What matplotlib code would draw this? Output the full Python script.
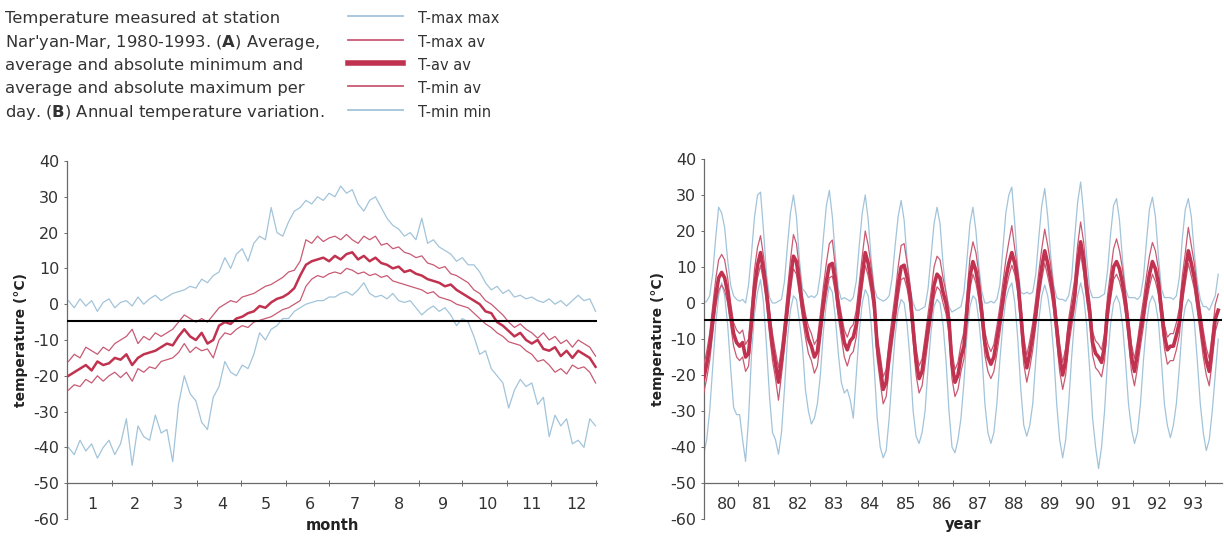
import numpy as np
import matplotlib
matplotlib.use('Agg')
import matplotlib.pyplot as plt
from matplotlib.lines import Line2D

# ---- (A) daily climatology, every 4th day of the year ----
days = np.arange(1, 366, 4)

tmaxmax_day = [1, -1, 1.5, -0.5, 1, -2, 0.5, 1.5, -1, 0.5,
               1, -0.5, 2, 0, 1.5, 2.5, 1, 2, 3, 3.5,
               4, 5, 4.5, 7, 6, 8, 9, 13, 10, 14,
               15.5, 12, 17, 19, 18, 27, 20, 19, 23, 26,
               27, 29, 28, 30, 29, 31, 30, 33, 31, 32,
               28, 26, 29, 30, 27, 24, 22, 21, 19, 20,
               18, 24, 17, 18, 16, 15, 14, 12, 13, 11,
               11, 9, 6, 4, 5, 3, 4, 2, 2.5, 1.5,
               2, 1, 0.5, 1.5, 0, 1, -0.5, 1, 2.5, 1,
               1.5, -2]
tmaxav_day = [-16, -14, -15, -12, -13, -14, -12, -13, -11, -10,
              -9, -7, -11, -9, -10, -8, -9, -8, -7, -5,
              -3, -4, -5, -4, -5, -3, -1, 0, 1, 0.5,
              2, 2.5, 3, 4, 5, 5.5, 6.5, 7.5, 9, 9.5,
              12, 18, 17, 19, 17.5, 18.5, 19, 18, 19.5, 18,
              17, 19, 18, 19, 16.5, 17, 15.5, 16, 14.5, 14,
              13, 13.5, 11.5, 11, 10, 10.5, 8.5, 8, 7, 6,
              4, 3, 1, 0, -1.5, -3, -5, -6.5, -5.5, -7,
              -8, -9.5, -8, -10, -9, -11, -10, -12, -10, -11,
              -12, -14.5]
tavav_day = [-20, -19, -18, -17, -18.5, -16, -17, -16.5, -15, -15.5,
             -14, -17, -15, -14, -13.5, -13, -12, -11, -11.5, -9,
             -7, -9, -10, -8, -11, -10, -6, -5, -5.5, -4,
             -3.5, -2.5, -2, -0.5, -1, 0.5, 1.5, 2, 3, 4.5,
             8, 11, 12, 12.5, 13, 12, 13.5, 12.5, 14, 14.5,
             12.5, 13.5, 12, 13, 11.5, 11, 10, 10.5, 9, 9.5,
             8.5, 8, 7, 6.5, 6, 5, 5.5, 4, 3, 2,
             1, 0, -2, -2.5, -5, -6, -7.5, -9, -8, -10,
             -11, -10, -12.5, -13, -12, -14.5, -13, -15, -13, -14,
             -15, -17.5]
tminav_day = [-24, -22.5, -23, -21, -22, -20, -21.5, -20, -19, -20.5,
              -19, -21.5, -18, -19, -17.5, -18, -16, -15.5, -15, -13.5,
              -11, -13.5, -12, -13, -12.5, -15, -10, -8, -8.5, -7,
              -6, -6.5, -5, -4.5, -4, -3.5, -2.5, -1.5, -1, 0,
              1, 5, 7, 8, 7.5, 8.5, 9, 8.5, 10, 9.5,
              8.5, 9, 8, 8.5, 7.5, 8, 6.5, 6, 5.5, 5,
              4.5, 4, 3, 3.5, 2, 1.5, 1, 0, -0.5, -1,
              -2.5, -4, -5.5, -6.5, -8, -9, -10.5, -11, -11.5, -13,
              -14, -16, -15.5, -17, -19, -18, -19.5, -17, -18, -17.5,
              -19, -22]
tminmin_day = [-40, -42, -38, -41, -39, -43, -40, -38, -42, -39,
               -32, -45, -34, -37, -38, -31, -36, -35, -44, -28,
               -20, -25, -27, -33, -35, -26, -23, -16, -19, -20,
               -17, -18, -14, -8, -10, -7, -6, -4, -4, -2,
               -1, 0, 0.5, 1, 1, 2, 2, 3, 3.5, 2.5,
               4, 6, 3, 2, 2.5, 1.5, 3, 1, 0.5, 1,
               -1, -3, -1.5, -0.5, -2, -1, -3, -6, -4, -5,
               -9, -14, -13, -18, -20, -22, -29, -24, -21, -23,
               -22, -28, -26, -37, -31, -34, -32, -39, -38, -40,
               -32, -34]

month_edges = [0, 31, 59, 90, 120, 151, 181, 212, 243, 273, 304, 334, 365]
month_labels = [str(m) for m in range(1, 13)]

# ---- (B) monthly values 1980 - May 1994 ----
tmaxmax_mon = [
    [0, 0.5, 2, 8, 18, 26.6, 25, 21, 12, 5, 2, 1],
    [0.5, 1, 0, 5, 14, 24, 30, 30.8, 20, 8, 1.5, 0],
    [0, 0.5, 1, 6, 16, 25, 30, 24, 12, 4, 3, 1.5],
    [2, 1.5, 2.5, 8, 18, 27, 31.3, 24, 13, 4, 1, 1.5],
    [1, 0.5, 1.5, 6, 16, 25, 30, 23, 12, 4, 1.5, 1],
    [0.5, 1, 2, 7, 16, 24, 28.5, 23, 12, 4, 0, -2],
    [-2, -1.5, -1, 4, 13, 22, 26.6, 22, 11, 3, -1, -2.5],
    [-2, -1.5, -1, 3, 12, 22, 26.6, 20, 10, 3, 0, 0],
    [0.5, 0, 1, 5, 15, 25, 30, 32.2, 22, 10, 3, 2.5],
    [3, 2.5, 3, 8, 18, 27, 31.8, 24, 13, 5, 1.5, 1],
    [1, 0.5, 2, 7, 18, 28, 33.6, 25, 13, 4, 1.5, 1.5],
    [1.5, 2, 2.5, 9, 19, 27, 29, 23, 12, 4, 1.5, 1.5],
    [1.5, 1, 2, 7, 17, 26, 29.4, 24, 13, 4, 1.5, 1.5],
    [1.5, 1, 2, 7, 18, 26, 29, 24, 14, 6, 1, -1],
    [-1, -2, 0, 2, 8],
]
tmaxav_mon = [
    [-17.5, -13.5, -8.5, -1, 6.5, 12, 13.5, 12, 7, 0, -5.5, -7.5],
    [-8.5, -7.5, -11.5, -10, -0.5, 9.5, 15.5, 18.7, 13, 6, -2, -8.5],
    [-13.5, -18, -12.5, -5, 3.5, 12, 19, 16.5, 9.5, 2, -3, -6.5],
    [-8.5, -11.5, -10, -3, 4.5, 11, 16.5, 17.5, 10, 2, -3, -7.5],
    [-9.5, -7, -6, -2, 5.5, 13, 20, 16, 10, 3, -9, -14.5],
    [-20.5, -18.5, -10.5, -4, 2.5, 10, 16, 16.5, 11, 5, -4, -12.5],
    [-17.5, -15.5, -9.5, -3, 3, 10, 13, 12, 7, 3, -2, -13.5],
    [-18.5, -16.5, -11.5, -8, 2.5, 12.5, 17, 14, 8, 0, -8, -11.5],
    [-13.5, -11.5, -6.5, -1, 5.5, 12, 17, 21.5, 15, 9, 0, -9.5],
    [-14.5, -10.5, -5.5, 1, 8.5, 15, 20.5, 16, 10.5, 4, -4, -11.5],
    [-16.5, -12.5, -4.5, 1, 6.5, 16, 22.5, 17, 8, 1, -8, -10.5],
    [-11.5, -13, -8.5, 2, 8.5, 15, 17.8, 14.5, 9.5, 3, -4, -11.5],
    [-15.5, -10.5, -4.5, 1, 7.5, 13, 16.8, 14.5, 9.5, 1, -6, -9.5],
    [-8.5, -8.5, -5.5, -1.5, 7.5, 14, 21, 16, 11, 4, -2, -7.5],
    [-12.5, -15.5, -8.5, -0.5, 2.5],
]
tavav_mon = [
    [-21, -17, -12, -5, 2, 7, 8.5, 7, 3, -3, -8.5, -11],
    [-12, -11, -15, -14, -5, 4.5, 10.5, 14, 9, 3, -5, -12],
    [-17, -22, -16, -9, -1, 7, 13, 11.5, 5.5, -1, -6, -10],
    [-12, -15, -13.5, -7, 0, 6, 10.5, 11, 6, -1, -6, -11],
    [-13, -10.5, -9.5, -6, 1, 8, 14, 11, 6, 0, -12, -18],
    [-24, -22, -14, -8, -2, 5, 10, 10.5, 7, 2, -7, -16],
    [-21, -19, -13, -7, -1.5, 5, 8, 7, 3, 0, -5, -17],
    [-22, -20, -15, -12, -2, 7.5, 11.5, 9, 4, -3, -11, -15],
    [-17, -15, -10, -5, 1, 7, 11, 14, 11, 6, -3, -13],
    [-18, -14, -9, -3, 4, 10, 14.5, 11, 6.5, 1, -7, -15],
    [-20, -16, -8, -3, 2, 11, 17, 12, 4, -2, -11, -14],
    [-15, -16.5, -12, -2, 4, 10, 11.5, 9.5, 5.5, 0, -7, -15],
    [-19, -14, -8, -3, 3, 8, 11.5, 9.5, 5.5, -2, -9, -13],
    [-12, -12, -9, -5.5, 3, 9, 14.5, 11, 7, 1, -5, -11],
    [-16, -19, -12, -4.5, -2],
]
tminav_mon = [
    [-25, -21, -16, -8.5, -1, 3.5, 5, 3.5, 0, -6, -12, -15],
    [-16, -15, -19, -17.5, -8, 1, 7, 10.5, 6, 0, -8.5, -16],
    [-21, -27, -20, -12.5, -4, 3.5, 9.5, 8, 2.5, -4, -9.5, -14],
    [-16, -19.5, -17.5, -10.5, -3, 2.5, 7, 7.5, 3, -4, -9.5, -15],
    [-17.5, -14.5, -13.5, -9.5, -2, 4.5, 10.5, 7.5, 3, -3, -15.5, -22],
    [-28, -26, -18, -11.5, -5, 1.5, 6.5, 7, 4, -1, -10.5, -20],
    [-25, -23, -17, -10.5, -4.5, 1.5, 4.5, 3.5, 0, -3, -8.5, -21],
    [-26, -24, -19, -15.5, -5, 4, 8, 5.5, 1, -6, -14.5, -19],
    [-21, -19, -14, -8.5, -2, 3.5, 7.5, 10.5, 8, 3, -6.5, -17],
    [-22, -18, -13, -6.5, 1, 6.5, 11, 7.5, 3.5, -2, -10.5, -19],
    [-24, -20, -12, -6.5, -1, 7.5, 13.5, 8.5, 1, -5, -14.5, -18],
    [-19, -20.5, -16, -5.5, 1, 6.5, 8, 6, 2.5, -3, -10.5, -19],
    [-23, -18, -12, -6.5, 0, 4.5, 8, 6, 2.5, -5, -12.5, -17],
    [-16, -16, -13, -9, 0, 5.5, 11, 7.5, 4, -2, -8.5, -15],
    [-20, -23, -16, -8, -5],
]
tminmin_mon = [
    [-42, -38, -30, -18, -6, 2, 5.6, 2, -6, -18, -29, -31],
    [-31, -38, -44, -32, -14, -3, 3, 6.5, 0, -12, -26, -36],
    [-38, -42, -36, -24, -10, -2, 2, 1, -5, -12, -24, -30],
    [-33.6, -32, -28, -20, -8, 0, 4.7, 3, -4, -14, -22, -25],
    [-24, -27, -32, -20, -8, 0, 3.7, 2, -6, -18, -32, -40],
    [-43, -41, -32, -20, -9, -2, 1, 0, -6, -16, -30, -37],
    [-39, -36, -30, -18, -8, -1, 1, 0, -6, -16, -30, -40],
    [-41.6, -38, -32, -22, -9, -1, 2, 1, -5, -14, -28, -36],
    [-39, -36, -28, -16, -6, 1, 4, 5.6, 0, -10, -24, -34],
    [-37, -34, -28, -16, -5, 2, 5, 2, -4, -14, -28, -38],
    [-43, -38, -28, -15, -4, 2, 5.6, 2, -6, -18, -32, -40],
    [-46, -40, -30, -16, -6, 0, 2, 0, -6, -16, -28, -35],
    [-39, -36, -28, -16, -6, 0, 2, 0, -5, -16, -28, -34],
    [-37.4, -34, -28, -18, -6, -1, 1, 0, -5, -16, -28, -36],
    [-41, -38, -30, -20, -10],
]
years = list(range(1980, 1995))
year_labels = [str(y)[2:] for y in range(1980, 1994)]

BLUE = '#a2c4da'
RED_THIN = '#c85a74'
RED_THICK = '#c0324f'
GREY = '#6a6a6a'
mean_line = -4.8


def flat(rows):
    return np.concatenate([np.asarray(r, dtype=float) for r in rows])


t_mon = np.concatenate([y + (np.arange(len(r)) + 0.5) / 12
                        for y, r in zip(years, tavav_mon)])

plt.rcParams['font.family'] = 'DejaVu Sans'
plt.rcParams['axes.unicode_minus'] = False

W, H = 1224, 540
fig = plt.figure(figsize=(W / 100, H / 100), dpi=100)


def fx(px):
    return px / W


def fy(py):
    return 1 - py / H


ax1 = fig.add_axes([fx(67), fy(519), (597 - 67) / W, (519 - 161) / H])
ax2 = fig.add_axes([fx(704), fy(519), (1222 - 704) / W, (519 - 159) / H])


def style(ax):
    ax.spines['top'].set_visible(False)
    ax.spines['right'].set_visible(False)
    ax.spines['bottom'].set_position(('data', -50))
    for s in ('left', 'bottom'):
        ax.spines[s].set_color(GREY)
        ax.spines[s].set_linewidth(0.9)
    ax.set_ylim(-60, 40)
    ax.set_yticks(range(-60, 41, 10))
    ax.tick_params(axis='y', length=2.5, width=0.7, color=GREY,
                   labelcolor='#333333', labelsize=11.5, pad=3)
    ax.tick_params(axis='x', which='major', direction='inout', length=4,
                   width=0.7, color=GREY, labelbottom=False)
    ax.tick_params(axis='x', which='minor', length=0, labelsize=11.5,
                   labelcolor='#333333', pad=10)
    ax.axhline(mean_line, color='black', lw=1.5, zorder=4)
    ax.set_ylabel('temperature (°C)', fontsize=10, fontweight='bold',
                  color='#222222', labelpad=4)


# (A)
ax1.plot(days, tmaxmax_day, color=BLUE, lw=0.9, zorder=2)
ax1.plot(days, tminmin_day, color=BLUE, lw=0.9, zorder=2)
ax1.plot(days, tmaxav_day, color=RED_THIN, lw=0.9, zorder=3)
ax1.plot(days, tminav_day, color=RED_THIN, lw=0.9, zorder=3)
ax1.plot(days, tavav_day, color=RED_THICK, lw=1.8, zorder=3)
ax1.set_xlim(0, 366)
style(ax1)
ax1.set_xticks(month_edges)
mids = [(a + b) / 2 + 2 for a, b in zip(month_edges[:-1], month_edges[1:])]
ax1.set_xticks(mids, month_labels, minor=True)
ax1.set_xlabel('month', fontsize=10.5, fontweight='bold', color='#222222',
               labelpad=4)

# (B)
ax2.plot(t_mon, flat(tmaxmax_mon), color=BLUE, lw=0.9, zorder=2)
ax2.plot(t_mon, flat(tminmin_mon), color=BLUE, lw=0.9, zorder=2)
ax2.plot(t_mon, flat(tmaxav_mon), color=RED_THIN, lw=0.9, zorder=3)
ax2.plot(t_mon, flat(tminav_mon), color=RED_THIN, lw=0.9, zorder=3)
ax2.plot(t_mon, flat(tavav_mon), color=RED_THICK, lw=2.6, zorder=3)
ax2.set_xlim(1980.05, 1994.48)
style(ax2)
ax2.set_xticks(range(1981, 1995))
ax2.set_xticks([y + 0.68 for y in range(1980, 1994)], year_labels, minor=True)
ax2.set_xlabel('year', fontsize=10.5, fontweight='bold', color='#222222',
               labelpad=4)

# caption
caption = ["Temperature measured at station",
           "Nar'yan-Mar, 1980-1993. ($\\mathbf{A}$) Average,",
           "average and absolute minimum and",
           "average and absolute maximum per",
           "day. ($\\mathbf{B}$) Annual temperature variation."]
baselines = [23, 47, 70, 93, 117]
for txt, yb in zip(caption, baselines):
    fig.text(fx(5), fy(yb), txt, fontsize=11.8, color='#333333',
             va='baseline')

# legend
legend_items = [('T-max max', BLUE, 1.3), ('T-max av', RED_THIN, 1.3),
                ('T-av av', RED_THICK, 4), ('T-min av', RED_THIN, 1.3),
                ('T-min min', BLUE, 1.3)]
for (lab, col, lw), yb in zip(legend_items, baselines):
    fig.add_artist(Line2D([fx(348), fx(403)], [fy(yb - 7)] * 2,
                          color=col, lw=lw))
    fig.text(fx(418), fy(yb), lab, fontsize=10.5, color='#333333',
             va='baseline')

fig.savefig('out.png', dpi=100)
